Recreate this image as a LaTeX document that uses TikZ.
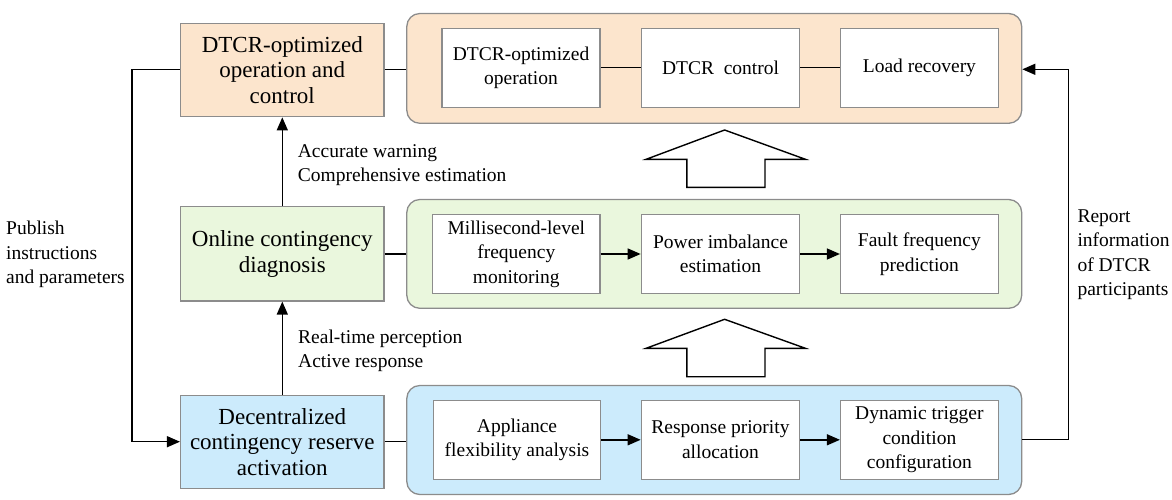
\documentclass[tikz,border=0pt]{standalone}
\usepackage{fontspec}
\setmainfont{Liberation Serif}
\usetikzlibrary{arrows.meta}
\definecolor{peach}{RGB}{252,229,205}
\definecolor{lgreen}{RGB}{234,247,221}
\definecolor{lblue}{RGB}{204,235,252}
\definecolor{bgray}{RGB}{140,140,140}
\tikzset{
  mainbox/.style={draw=bgray, line width=1.3pt, inner sep=0pt, align=center,
    minimum width=203.4pt, font=\fontsize{23}{25.5}\selectfont},
  panel/.style={draw=bgray, line width=1.3pt, rounded corners=13pt, inner sep=0pt,
    minimum width=614.9pt},
  subbox/.style={draw=bgray, line width=1.2pt, fill=white, inner sep=0pt, align=center,
    minimum height=79pt, font=\fontsize{19.5}{24.5}\selectfont},
  note/.style={inner sep=0pt, align=left, font=\fontsize{19.5}{24.5}\selectfont},
  conn/.style={line width=1.4pt, draw=black},
  arr/.style={conn, -{Triangle[length=13pt,width=11pt]}},
  hollow/.style={draw=black, line width=1.4pt, fill=white, line join=miter}
}
\begin{document}
\begin{tikzpicture}[x=1pt,y=-1pt]
\useasboundingbox (0,0) rectangle (1172,500);
% left column
\node[mainbox, fill=peach, minimum height=93.4pt] (L1) at (282.3,70) {DTCR-optimized\\operation and\\control};
\node[mainbox, fill=lgreen, minimum height=94.3pt] (L2) at (282.3,253.8) {Online contingency\\diagnosis};
\node[mainbox, fill=lblue, minimum height=92.6pt] (L3) at (282.3,442) {Decentralized\\contingency reserve\\activation};
% panels
\node[panel, fill=peach, minimum height=109.8pt] (C1) at (714.25,68.4) {};
\node[panel, fill=lgreen, minimum height=108.8pt] (C2) at (714.25,253.9) {};
\node[panel, fill=lblue, minimum height=109pt] (C3) at (714.25,440) {};
% row 1
\node[subbox, minimum width=158pt] (A1) at (521,67.8) {DTCR-optimized\\operation};
\node[subbox, minimum width=158.5pt] (A2) at (720.5,67.8) {DTCR\enspace control};
\node[subbox, minimum width=157.8pt] (A3) at (919.4,67.8) {Load recovery};
% row 2
\node[subbox, minimum width=167.3pt] (B1) at (516.3,254) {Millisecond-level\\frequency\\monitoring};
\node[subbox, minimum width=158.5pt] (B2) at (720.5,254) {Power imbalance\\estimation};
\node[subbox, minimum width=157.8pt] (B3) at (919.4,254) {Fault frequency\\prediction};
% row 3
\node[subbox, minimum width=167pt] (D1) at (517,439.8) {Appliance\\flexibility analysis};
\node[subbox, minimum width=158.5pt] (D2) at (720.5,439.8) {Response priority\\allocation};
\node[subbox, minimum width=157.8pt] (D3) at (919.4,439.8) {Dynamic trigger\\condition\\configuration};
% inner connectors
\draw[conn] (A1) -- (A2);
\draw[conn] (A2) -- (A3);
\draw[arr] (B1) -- (B2);
\draw[arr] (B2) -- (B3);
\draw[arr] (D1) -- (D2);
\draw[arr] (D2) -- (D3);
% left to panels
\draw[conn] (L1.east |- 0,69.3) -- (C1.west |- 0,69.3);
\draw[conn] (L2.east) -- (C2.west |- L2.east);
\draw[conn] (L3.east |- 0,441.7) -- (C3.west |- 0,441.7);
% vertical arrows
\draw[arr] (L2.north) -- (L1.south);
\draw[arr] (L3.north) -- (L2.south);
\node[note, anchor=west] (n1) at (297.7,165) {Accurate warning\\Comprehensive estimation};
\node[note, anchor=west] (n2) at (298,351) {Real-time perception\\Active response};
% left feedback line
\coordinate (p1) at (132,69.3);
\coordinate (p2) at (132,441.7);
\draw[conn] (L1.west |- p1) -- (p1) -- (p2);
\draw[arr] (p2) -- (L3.west |- p2);
\node[note, anchor=west] (pub) at (6,254.5) {Publish\\instructions\\and parameters};
% right feedback line
\coordinate (q1) at (1068.3,439.3);
\coordinate (q2) at (1068.3,69.3);
\draw[conn] (C3.east |- q1) -- (q1) -- (q2);
\draw[arr] (q2) -- (C1.east |- q2);
\node[note, anchor=west] (rep) at (1077.3,254.5) {Report\\information\\of DTCR\\participants};
% hollow arrows
\draw[hollow] (724.6,130) -- (805.4,159.3) -- (765,159.3) -- (765,187.3) -- (686.8,187.3) -- (686.8,159.3) -- (646.1,159.3) -- cycle;
\draw[hollow] (724.6,319.3) -- (805.4,348.3) -- (765,348.3) -- (765,376.7) -- (686.8,376.7) -- (686.8,348.3) -- (646.1,348.3) -- cycle;
\end{tikzpicture}
\end{document}
